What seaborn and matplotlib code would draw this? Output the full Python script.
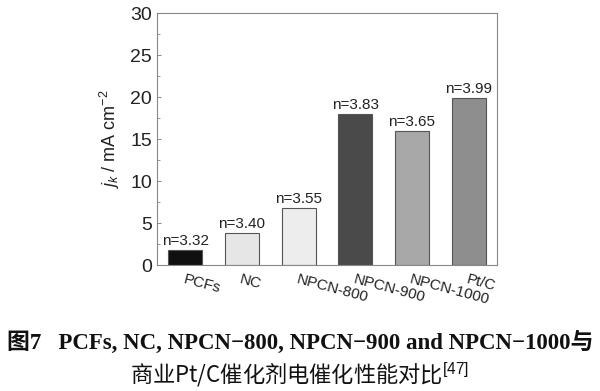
import matplotlib
matplotlib.use("Agg")
import matplotlib.pyplot as plt
import seaborn as sns
import pandas as pd

# =========================
# DATA
# =========================
samples = ["PCFs", "NC", "NPCN-800", "NPCN-900", "NPCN-1000", "Pt/C"]
jk = [1.8, 3.8, 6.8, 18.0, 16.0, 19.9]
n_labels = ["n=3.32", "n=3.40", "n=3.55", "n=3.83", "n=3.65", "n=3.99"]
bar_colors = ["#101010", "#e6e6e6", "#ededed", "#4a4a4a", "#a8a8a8", "#8e8e8e"]
y_ticks = [0, 5, 10, 15, 20, 25, 30]

df = pd.DataFrame({"sample": samples, "jk": jk})

# =========================
# PLOT
# =========================
sns.set_theme(style="white")
plt.rcParams["font.family"] = ["Liberation Sans", "DejaVu Sans"]
plt.rcParams["mathtext.fontset"] = "custom"
plt.rcParams["mathtext.rm"] = "Liberation Sans"
plt.rcParams["mathtext.it"] = "Liberation Sans:italic"

fig = plt.figure(figsize=(6, 3.91), dpi=100)
ax = fig.add_axes([157 / 600, 1 - 265 / 391, 340 / 600, 252 / 391])

sns.barplot(data=df, x="sample", y="jk", hue="sample", palette=bar_colors,
            width=0.6, edgecolor="#555555", linewidth=0.8, legend=False,
            saturation=1, ax=ax)

for i, (v, lab) in enumerate(zip(jk, n_labels)):
    ax.text(i, v + 0.2, lab, ha="center", va="bottom", fontsize=11, color="#222222")

ax.set_xlim(-0.5, 5.5)
ax.set_ylim(0, 30)
ax.set_yticks(y_ticks)
ax.set_yticks([2.5, 7.5, 12.5, 17.5, 22.5, 27.5], minor=True)
ax.tick_params(axis="y", which="major", direction="in", length=3, width=0.7,
               labelsize=14, colors="#888888", labelcolor="#222222", left=True)
ax.tick_params(axis="y", which="minor", direction="in", length=2, width=0.6,
               colors="#888888", left=True)
ax.tick_params(axis="x", length=0, pad=5)
ax.set_xticks(range(len(samples)))
ax.set_xticklabels(samples, rotation=-15, ha="left", rotation_mode="anchor",
                   fontsize=11, color="#222222")
ax.set_xlabel("")
ax.set_ylabel(r"$j_k$ / mA cm$^{-2}$", fontsize=13, color="#222222", labelpad=6)

for sp in ax.spines.values():
    sp.set_color("#888888")
    sp.set_linewidth(0.8)

# caption
fig.text(0.5, 1 - 342 / 391, "图7   PCFs, NC, NPCN−800, NPCN−900 and NPCN−1000与",
         ha="center", va="center", fontsize=16.5, fontweight="bold",
         family=["Liberation Serif", "Noto Sans CJK SC"], color="#111111")
fig.text(0.5, 1 - 375 / 391, "商业Pt/C催化剂电催化性能对比$^{[47]}$",
         ha="center", va="center", fontsize=16,
         family=["Noto Sans CJK SC", "DejaVu Sans"], color="#111111")

fig.savefig("out.png", dpi=100)
